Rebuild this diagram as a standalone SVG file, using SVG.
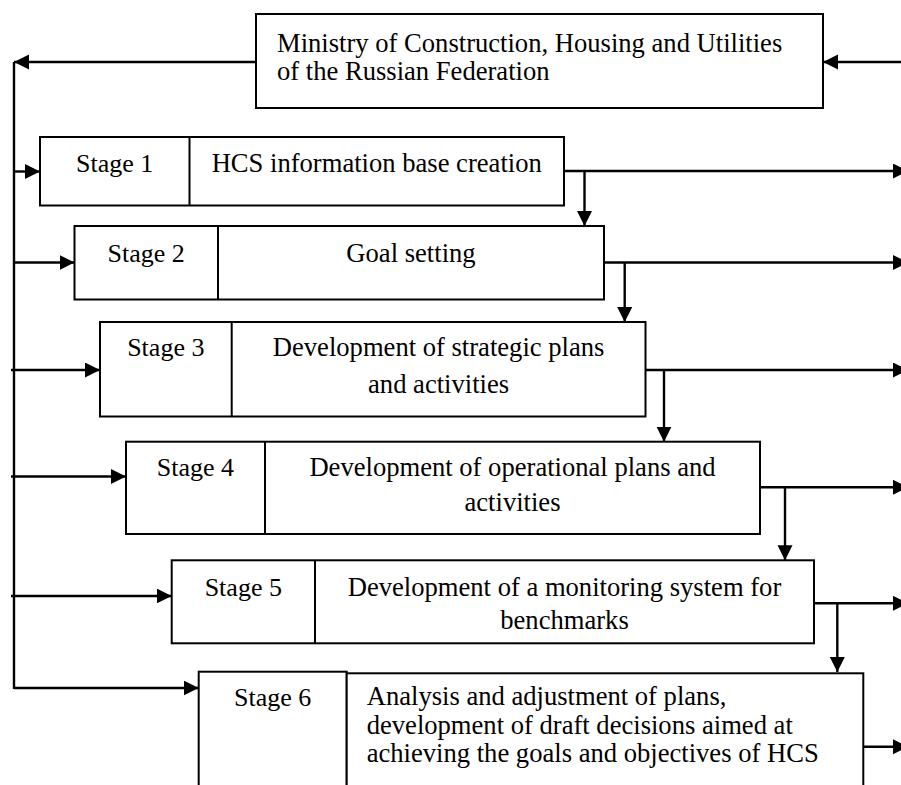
<svg xmlns="http://www.w3.org/2000/svg" width="901" height="785" viewBox="0 0 901 785">
<style>
.box{fill:#fff;stroke:#000;stroke-width:2}
.div{stroke:#000;stroke-width:2}
.t{font-family:"Liberation Serif","Times New Roman",serif;font-size:26.6px;fill:#000}
.s{font-size:26px}
.c{text-anchor:middle}
.con{fill:none;stroke:#000;stroke-width:2.4}
</style>
<defs>
<marker id="ah" markerUnits="userSpaceOnUse" markerWidth="16" markerHeight="16" refX="15" refY="7.5" orient="auto">
<path d="M0,0 L15,7.5 L0,15 z" fill="#000"/>
</marker>
</defs>
<rect width="901" height="785" fill="#fff"/>
<g id="ministry">
<rect class="box" x="256" y="14" width="567" height="94"/>
<text class="t" x="277" y="52">Ministry of Construction, Housing and Utilities</text>
<text class="t" x="277" y="79.5">of the Russian Federation</text>
</g>
<g id="stage1">
<rect class="box" x="40" y="137" width="524" height="68.5"/>
<line class="div" x1="189.5" y1="137" x2="189.5" y2="205.5"/>
<text class="t s c" x="114.7" y="172">Stage 1</text>
<text class="t c" x="376.7" y="172">HCS information base creation</text>
</g>
<g id="stage2">
<rect class="box" x="74.5" y="226" width="529.5" height="73.5"/>
<line class="div" x1="218" y1="226" x2="218" y2="299.5"/>
<text class="t s c" x="146.2" y="261.5">Stage 2</text>
<text class="t c" x="411" y="261.5">Goal setting</text>
</g>
<g id="stage3">
<rect class="box" x="100" y="322" width="545.5" height="94.5"/>
<line class="div" x1="231.7" y1="322" x2="231.7" y2="416.5"/>
<text class="t s c" x="165.8" y="356">Stage 3</text>
<text class="t c" x="438.6" y="355.5">Development of strategic plans</text>
<text class="t c" x="438.6" y="392.5">and activities</text>
</g>
<g id="stage4">
<rect class="box" x="126" y="441.7" width="634" height="92.3"/>
<line class="div" x1="265" y1="441.7" x2="265" y2="534"/>
<text class="t s c" x="195.5" y="476">Stage 4</text>
<text class="t c" x="512.5" y="476">Development of operational plans and</text>
<text class="t c" x="512.5" y="511">activities</text>
</g>
<g id="stage5">
<rect class="box" x="171.7" y="560.3" width="642.3" height="83"/>
<line class="div" x1="315" y1="560.3" x2="315" y2="643.3"/>
<text class="t s c" x="243.3" y="596">Stage 5</text>
<text class="t c" x="564.5" y="595.5">Development of a monitoring system for</text>
<text class="t c" x="564.5" y="629">benchmarks</text>
</g>
<g id="stage6">
<rect class="box" x="198.7" y="671.7" width="148" height="130"/>
<rect class="box" x="346.7" y="673.3" width="516.6" height="130"/>
<text class="t s c" x="272.7" y="706">Stage 6</text>
<text class="t" x="366.7" y="705">Analysis and adjustment of plans,</text>
<text class="t" x="366.7" y="733.5">development of draft decisions aimed at</text>
<text class="t" x="366.7" y="762">achieving the goals and objectives of HCS</text>
</g>
<g id="connectors">
<path class="con" d="M256,62 H14" marker-end="url(#ah)"/>
<path class="con" d="M901,62 H823" marker-end="url(#ah)"/>
<path class="con" d="M14,62 V689"/>
<path class="con" d="M14,171.5 H40" marker-end="url(#ah)"/>
<path class="con" d="M14,262.5 H74.5" marker-end="url(#ah)"/>
<path class="con" d="M11,370 H100" marker-end="url(#ah)"/>
<path class="con" d="M11,476.5 H126" marker-end="url(#ah)"/>
<path class="con" d="M11,596 H171.7" marker-end="url(#ah)"/>
<path class="con" d="M14,688 H198.7" marker-end="url(#ah)"/>
<path class="con" d="M564,171 H908" marker-end="url(#ah)"/>
<path class="con" d="M604,262.5 H908" marker-end="url(#ah)"/>
<path class="con" d="M645.5,370 H908" marker-end="url(#ah)"/>
<path class="con" d="M760,487.3 H908" marker-end="url(#ah)"/>
<path class="con" d="M814,603.3 H908" marker-end="url(#ah)"/>
<path class="con" d="M863.3,746.7 H908" marker-end="url(#ah)"/>
<path class="con" d="M584.5,171 V226" marker-end="url(#ah)"/>
<path class="con" d="M624.7,262.5 V322" marker-end="url(#ah)"/>
<path class="con" d="M664,370 V441.7" marker-end="url(#ah)"/>
<path class="con" d="M785,487.3 V560.3" marker-end="url(#ah)"/>
<path class="con" d="M837.3,603.3 V672" marker-end="url(#ah)"/>
</g>
</svg>
